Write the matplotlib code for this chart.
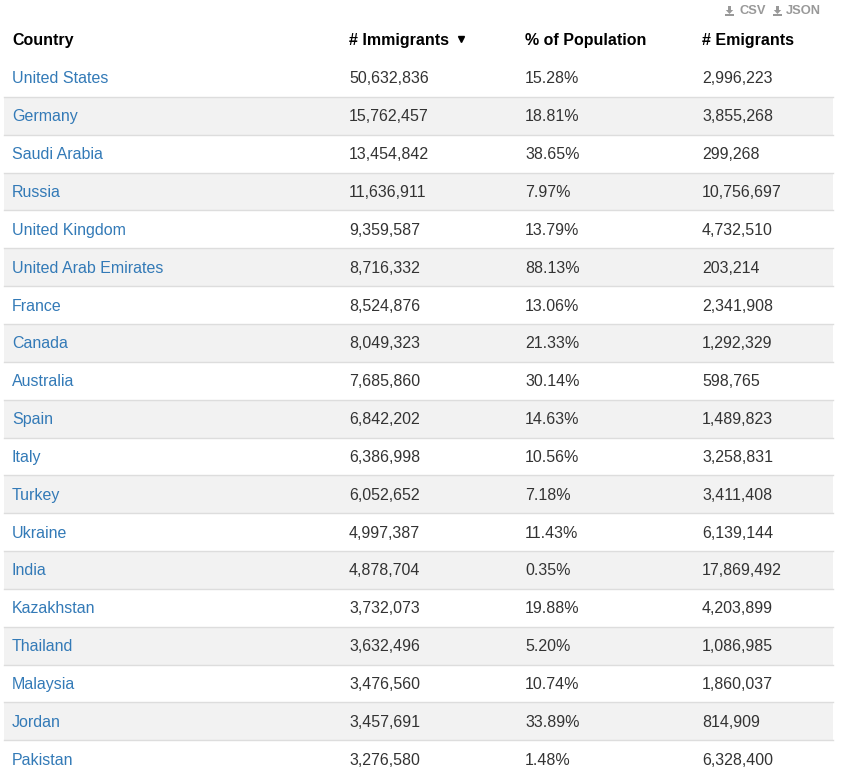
import matplotlib.pyplot as plt
from matplotlib.patches import Rectangle, Polygon

# table data
countries = ['United States', 'Germany', 'Saudi Arabia', 'Russia', 'United Kingdom',
             'United Arab Emirates', 'France', 'Canada', 'Australia', 'Spain', 'Italy',
             'Turkey', 'Ukraine', 'India', 'Kazakhstan', 'Thailand', 'Malaysia',
             'Jordan', 'Pakistan']
immigrants = [50632836, 15762457, 13454842, 11636911, 9359587, 8716332, 8524876,
              8049323, 7685860, 6842202, 6386998, 6052652, 4997387, 4878704,
              3732073, 3632496, 3476560, 3457691, 3276580]
pct_population = [15.28, 18.81, 38.65, 7.97, 13.79, 88.13, 13.06, 21.33, 30.14,
                  14.63, 10.56, 7.18, 11.43, 0.35, 19.88, 5.20, 10.74, 33.89, 1.48]
emigrants = [2996223, 3855268, 299268, 10756697, 4732510, 203214, 2341908,
             1292329, 598765, 1489823, 3258831, 3411408, 6139144, 17869492,
             4203899, 1086985, 1860037, 814909, 6328400]
headers = ['Country', '# Immigrants', '% of Population', '# Emigrants']

W, H = 845, 773
fig = plt.figure(figsize=(W / 100, H / 100), dpi=100)
ax = fig.add_axes([0, 0, 1, 1])
ax.set_xlim(0, W)
ax.set_ylim(H, 0)
ax.axis('off')

font = 'Liberation Sans'
fs = 11.5
link = '#337ab7'
body = '#333333'
grid = '#dddddd'
stripe = '#f2f2f2'
muted = '#999999'

left, right = 4, 833
col_x = [12, 349, 525, 702]
header_y = 41
top = 59
row_h = 37.85


def download_icon(x, y):
    # small "download" glyph: arrow into a tray
    ax.add_patch(Rectangle((x + 3.3, y - 5), 2.4, 4.5, color=muted, lw=0))
    ax.add_patch(Polygon([(x + 0.8, y - 1), (x + 8.2, y - 1), (x + 4.5, y + 3)],
                         color=muted, lw=0))
    ax.add_patch(Rectangle((x, y + 3.2), 9, 1.8, color=muted, lw=0))


# header
for x, h in zip(col_x, headers):
    ax.text(x, header_y, h, fontsize=fs, fontweight='bold', color='black',
            family=font, va='center', ha='left')
ax.plot([461], [38.5], marker='v', color='black', markersize=5)

# download links
download_icon(725, 11)
ax.text(740, 11.5, 'CSV', fontsize=9.3, color=muted, family=font,
        va='center', ha='left', fontweight='bold')
download_icon(773, 11)
ax.text(786, 11.5, 'JSON', fontsize=9.3, color=muted, family=font,
        va='center', ha='left', fontweight='bold')

# rows
for i, c in enumerate(countries):
    y0 = top + i * row_h
    if i % 2 == 1:
        ax.add_patch(Rectangle((left, y0), right - left, row_h, color=stripe, lw=0))
    if i > 0:
        ax.plot([left, right], [y0, y0], color=grid, lw=1)
    yc = y0 + row_h / 2 + 1
    ax.text(col_x[0], yc, c, fontsize=fs, color=link, family=font, va='center')
    ax.text(col_x[1], yc, f'{immigrants[i]:,}', fontsize=fs, color=body,
            family=font, va='center')
    ax.text(col_x[2], yc, f'{pct_population[i]:.2f}%', fontsize=fs, color=body,
            family=font, va='center')
    ax.text(col_x[3], yc, f'{emigrants[i]:,}', fontsize=fs, color=body,
            family=font, va='center')

fig.savefig('out.png', dpi=100, facecolor='white')
